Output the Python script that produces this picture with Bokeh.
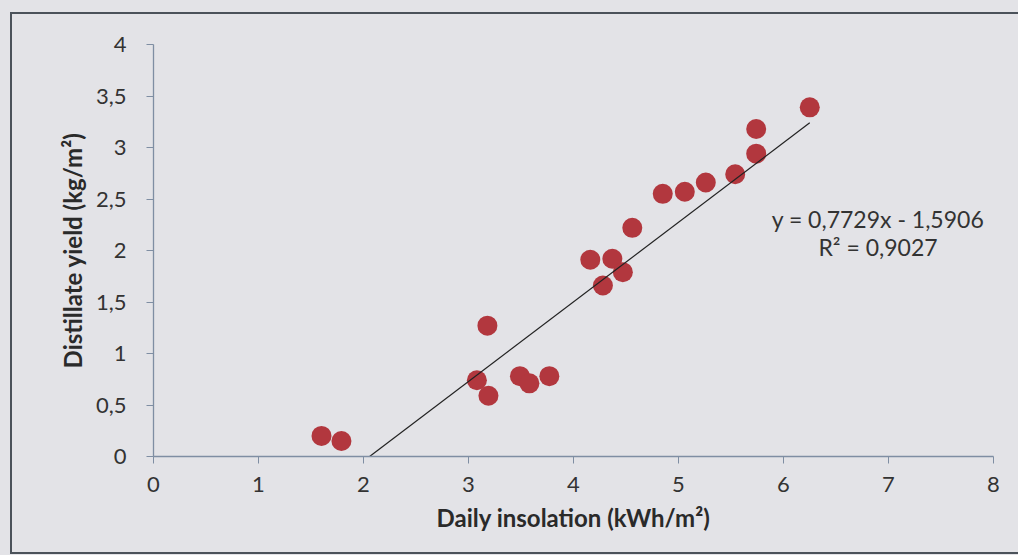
from bokeh.plotting import figure
from bokeh.models import FixedTicker, Label
from bokeh.embed import file_html
from bokeh.resources import INLINE

# Data
insolation = [1.60, 1.79, 3.08, 3.19, 3.18, 3.49, 3.58, 3.77, 4.16, 4.28,
              4.37, 4.47, 4.56, 4.85, 5.06, 5.26, 5.54, 5.74, 5.74, 6.25]
yield_kg = [0.20, 0.15, 0.74, 0.59, 1.27, 0.78, 0.71, 0.78, 1.91, 1.66,
            1.92, 1.79, 2.22, 2.55, 2.57, 2.66, 2.74, 2.94, 3.18, 3.39]

slope = 0.7729
intercept = -1.5906
r_squared = 0.9027

x_ticks = [0, 1, 2, 3, 4, 5, 6, 7, 8]
x_tick_labels = ["0", "1", "2", "3", "4", "5", "6", "7", "8"]
y_ticks = [0, 0.5, 1, 1.5, 2, 2.5, 3, 3.5, 4]
y_tick_labels = ["0", "0,5", "1", "1,5", "2", "2,5", "3", "3,5", "4"]

BG = "#e3e3e7"
LINE = "#4b525a"
FONT = "Lato"

p = figure(width=1018, height=555, output_backend="svg", toolbar_location=None,
           x_range=(0, 8), y_range=(0, 4),
           min_border_left=153, min_border_right=25, min_border_top=44, min_border_bottom=99)
p.background_fill_alpha = 0
p.border_fill_alpha = 0
p.outline_line_color = None
p.xgrid.visible = False
p.ygrid.visible = False

# page background with the outer frame lines of the scanned chart
p.styles = {"background": (
    f"linear-gradient({LINE},{LINE}) 10px 12px / 2px 542px no-repeat, "
    f"linear-gradient({LINE},{LINE}) 10px 12px / 1008px 2px no-repeat, "
    f"linear-gradient({LINE},{LINE}) 10px 552px / 1008px 2px no-repeat, "
    f"{BG}")}

for ax, ticks, labels in ((p.xaxis[0], x_ticks, x_tick_labels), (p.yaxis[0], y_ticks, y_tick_labels)):
    ax.ticker = FixedTicker(ticks=ticks)
    ax.major_label_overrides = {t: l for t, l in zip(ticks, labels)}
    ax.axis_line_color = "#7f8ea3"
    ax.axis_line_width = 1.3
    ax.major_tick_line_color = "#7f8ea3"
    ax.major_tick_out = 7
    ax.major_tick_in = 0
    ax.minor_tick_line_color = None
    ax.major_label_text_font = FONT
    ax.major_label_text_font_size = "22px"
    ax.major_label_text_color = "#333333"
    ax.axis_label_text_font = FONT
    ax.axis_label_text_font_style = "bold"
    ax.axis_label_text_font_size = "24px"
    ax.axis_label_text_color = "#2a2a2a"

p.xaxis.axis_label = "Daily insolation (kWh/m²)"
p.yaxis.axis_label = "Distillate yield (kg/m²)"
p.xaxis.major_label_standoff = 13
p.yaxis.major_label_standoff = 20
p.xaxis.axis_label_standoff = 8
p.yaxis.axis_label_standoff = 6

p.scatter(insolation, yield_kg, size=20, fill_color="#b2373e", line_color=None)

x0 = -intercept / slope
x1 = max(insolation)
p.line([x0, x1], [slope * x0 + intercept, slope * x1 + intercept], line_color="#222222", line_width=1.2)

eq = "y = {:.4f}x - {:.4f}".format(slope, abs(intercept)).replace(".", ",")
r2 = "R² = {:.4f}".format(r_squared).replace(".", ",")
p.add_layout(Label(x=6.9, y=2.31, text=eq, text_align="center", text_baseline="middle",
                   text_font=FONT, text_font_size="23px", text_color="#333333"))
p.add_layout(Label(x=6.9, y=2.03, text=r2, text_align="center", text_baseline="middle",
                   text_font=FONT, text_font_size="23px", text_color="#333333"))

open("out.html", "w").write(file_html(p, INLINE))
